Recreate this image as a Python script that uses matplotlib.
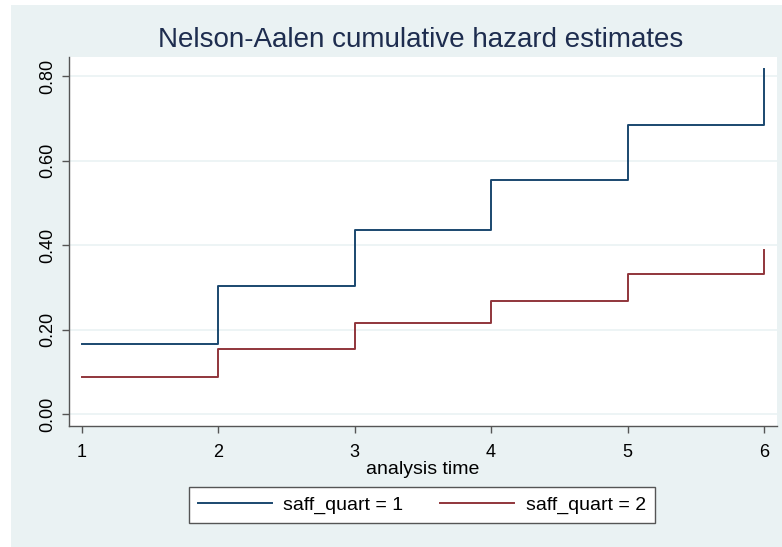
import numpy as np
import matplotlib.pyplot as plt
from matplotlib.patches import Rectangle

plt.rcParams['font.family'] = ['Liberation Sans', 'DejaVu Sans']

# Nelson-Aalen cumulative hazard by group
times = [1, 2, 3, 4, 5, 6]
haz_q1 = [0.166, 0.304, 0.436, 0.555, 0.684, 0.817]
haz_q2 = [0.088, 0.155, 0.215, 0.267, 0.332, 0.389]
labels = ['saff_quart = 1', 'saff_quart = 2']
yticks = [0.0, 0.2, 0.4, 0.6, 0.8]

navy = '#1a476f'
maroon = '#90353b'
bg = '#eaf2f3'

W, H = 782, 547
fig = plt.figure(figsize=(W / 100, H / 100), dpi=100, facecolor='white')
# graph region (Stata-like), leaves a thin white strip top/left
fig.patches.append(Rectangle((11 / W, 0), 1 - 11 / W, 1 - 5 / H,
                             transform=fig.transFigure, facecolor=bg,
                             edgecolor='none', zorder=-10))

ax = fig.add_axes([69 / W, 1 - 426 / H, (777 - 69) / W, (426 - 57) / H])
ax.set_facecolor('white')

def steps(t, h):
    # step path: hold each value until the next time, then jump
    xs, ys = [], []
    for i in range(len(t) - 1):
        xs += [t[i], t[i + 1]]
        ys += [h[i], h[i]]
    xs.append(t[-1])
    ys.append(h[-1])
    return xs, ys

for h, c, lab in [(haz_q1, navy, labels[0]), (haz_q2, maroon, labels[1])]:
    xs, ys = steps(times, h)
    ax.plot(xs, ys, color=c, lw=1.4, label=lab)

ax.set_xlim(0.907, 6.095)
ax.set_ylim(-0.028, 0.845)
ax.set_xticks(times)
ax.set_yticks(yticks)
ax.set_yticklabels(['%.2f' % v for v in yticks], rotation=90, va='center')
ax.grid(axis='y', color=bg, lw=1.2)
ax.set_axisbelow(True)
for s in ['top', 'right']:
    ax.spines[s].set_visible(False)
for s in ['left', 'bottom']:
    ax.spines[s].set_color('#555555')
    ax.spines[s].set_linewidth(1.0)
ax.tick_params(direction='out', length=5, width=1, color='#555555',
               labelsize=13, labelcolor='black')
ax.tick_params(axis='x', pad=8)
ax.tick_params(axis='y', pad=4)

ax.set_xlabel('analysis time', fontsize=14, labelpad=0)
fig.text(421 / W, 1 - 40 / H, 'Nelson-Aalen cumulative hazard estimates',
         ha='center', va='center', fontsize=20, color='#1e2d4f')

leg = fig.legend(loc='center', bbox_to_anchor=(422 / W, 1 - 505 / H),
                 ncol=2, fontsize=14, frameon=True, fancybox=False,
                 framealpha=1, handlelength=3.8, columnspacing=1.9,
                 handletextpad=0.6, borderpad=0.45)
leg.get_frame().set_edgecolor('#555555')
leg.get_frame().set_linewidth(1.0)

fig.savefig('out.png', dpi=100, facecolor='white')
